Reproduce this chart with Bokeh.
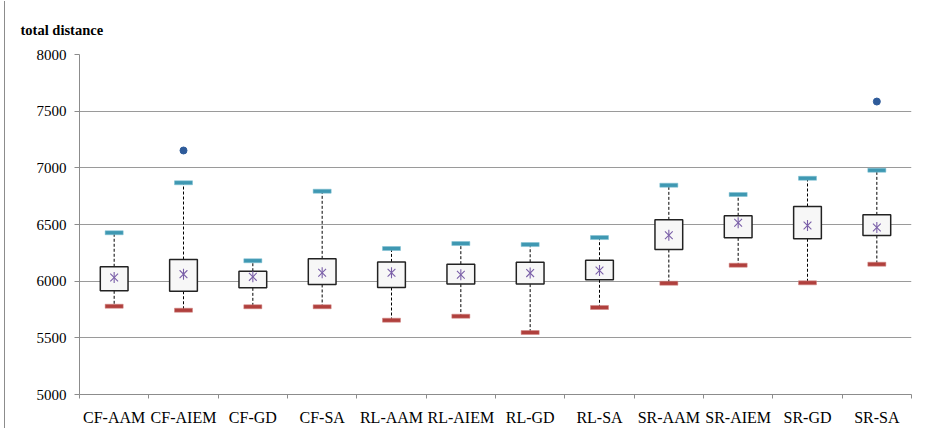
import numpy as np
from bokeh.plotting import figure
from bokeh.models import FixedTicker, Range1d, Title, ColumnDataSource
from bokeh.embed import file_html
from bokeh.resources import INLINE

categories = ["CF-AAM", "CF-AIEM", "CF-GD", "CF-SA", "RL-AAM", "RL-AIEM",
              "RL-GD", "RL-SA", "SR-AAM", "SR-AIEM", "SR-GD", "SR-SA"]
q1 = [5915, 5911, 5941, 5971, 5944, 5974, 5974, 6012, 6279, 6382, 6374, 6403]
q3 = [6127, 6191, 6088, 6197, 6170, 6150, 6167, 6185, 6541, 6577, 6659, 6585]
means = [6032, 6062, 6038, 6074, 6074, 6056, 6071, 6094, 6406, 6515, 6491, 6473]
upper = [6427, 6868, 6180, 6794, 6288, 6332, 6323, 6385, 6847, 6765, 6908, 6979]
lower = [5779, 5744, 5774, 5774, 5656, 5691, 5547, 5768, 5982, 6141, 5985, 6150]
outlier_cats = ["CF-AIEM", "SR-SA"]
outlier_vals = [7153, 7585]
y_ticks = [5000, 5500, 6000, 6500, 7000, 7500, 8000]

xpos = [i + 0.5 for i in range(len(categories))]
src = ColumnDataSource(dict(x=xpos, q1=q1, q3=q3, mid=[(a + b) / 2 for a, b in zip(q1, q3)],
                            h=[b - a for a, b in zip(q1, q3)], mean=means, up=upper, lo=lower))
ox = [categories.index(c) + 0.5 for c in outlier_cats]

p = figure(width=912, height=427, output_backend="svg", toolbar_location=None,
           x_range=Range1d(0, len(categories)), y_range=Range1d(5000, 8000),
           min_border_left=74, min_border_right=6, min_border_top=53, min_border_bottom=32)
p.margin = (1, 0, 0, 4)
p.styles = {"border-left": "1px solid #8c8c8c"}
p.outline_line_color = None
p.background_fill_color = "white"

t = Title(text="total distance", align="left", offset=-59, text_font="Liberation Serif",
          text_font_size="14.5px", text_font_style="bold", text_color="black", standoff=34)
p.add_layout(t, "above")

# grid
p.xgrid.grid_line_color = None
p.ygrid.grid_line_color = "#9a9a9a"
p.ygrid.grid_line_width = 1.2
p.yaxis.ticker = FixedTicker(ticks=y_ticks)

# axes
p.xaxis.ticker = FixedTicker(ticks=xpos, minor_ticks=list(range(len(categories) + 1)))
p.xaxis.major_label_overrides = {x: c for x, c in zip(xpos, categories)}
p.xaxis.major_tick_out = 0
p.xaxis.major_tick_in = 0
p.xaxis.minor_tick_out = 4
p.xaxis.minor_tick_in = 0
p.xaxis.minor_tick_line_color = "#8c8c8c"
p.xaxis.axis_line_color = "#8c8c8c"
p.xaxis.major_label_standoff = 10
p.yaxis.minor_tick_line_color = None
p.yaxis.major_tick_out = 5
p.yaxis.major_tick_in = 0
p.yaxis.major_tick_line_color = "#8c8c8c"
p.yaxis.axis_line_color = "#8c8c8c"
p.yaxis.major_label_standoff = 8
for ax in (p.xaxis, p.yaxis):
    ax.major_label_text_font = "Liberation Serif"
    ax.major_label_text_color = "black"
p.xaxis.major_label_text_font_size = "16px"
p.yaxis.major_label_text_font_size = "15px"

# whiskers
p.segment(x0="x", y0="q3", x1="x", y1="up", source=src, line_color="black",
          line_dash="3 2", line_width=1)
p.segment(x0="x", y0="q1", x1="x", y1="lo", source=src, line_color="black",
          line_dash="3 2", line_width=1)
# boxes
p.rect(x="x", y="mid", width=0.40, height="h", source=src, fill_color="#f7f7f7",
       line_color="#222222", line_width=1.5)
# caps
p.rect(x="x", y="up", width=0.26, height=4, height_units="screen", source=src,
       fill_color="#3f98b2", line_color="#7fc0d2", line_width=0.5)
p.rect(x="x", y="lo", width=0.26, height=4, height_units="screen", source=src,
       fill_color="#b0403d", line_color="#d08582", line_width=0.5)
# means (six-armed star)
p.scatter(x="x", y="mean", source=src, marker="x", size=11,
          line_color="#7a5fa8", line_width=1.1)
p.scatter(x="x", y="mean", source=src, marker="dash", size=11, angle=np.pi / 2,
          line_color="#7a5fa8", line_width=1.1)
# outliers
p.scatter(x=ox, y=outlier_vals, marker="circle", size=7, fill_color="#2e5b9a",
          line_color="#2e5b9a")

open("out.html", "w").write(file_html(p, INLINE))
